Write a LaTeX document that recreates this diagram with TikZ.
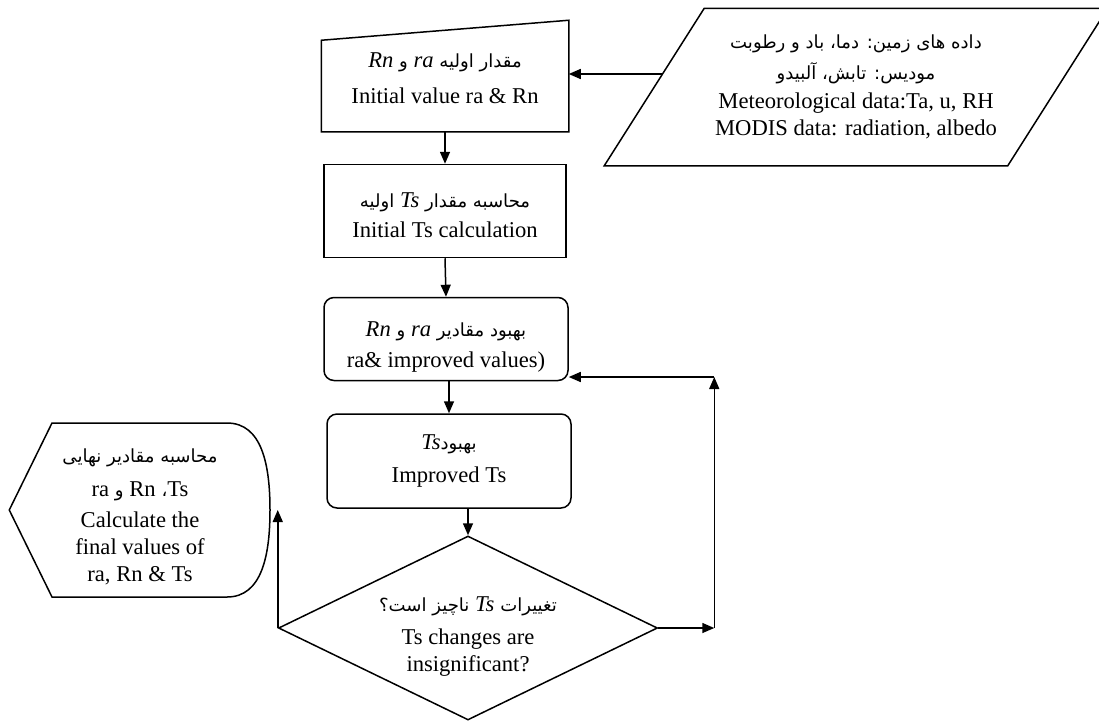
\documentclass[tikz,border=0pt]{standalone}
\usepackage{fontspec}
\setmainfont{Liberation Serif}
\newfontfamily\fa[Script=Arabic,Scale=0.8]{DejaVu Sans}
\TeXXeTstate=1
\usetikzlibrary{shapes.geometric,arrows.meta,calc}

\newcommand{\fatext}[1]{{\fa\beginR #1\endR}}
\newcommand{\latit}[1]{{\rmfamily\itshape #1}}
\newcommand{\latrm}[1]{{\rmfamily #1}}
\newcommand{\hstrut}[1]{\rule{0pt}{#1}}
\newcommand{\dstrut}[1]{\rule[-#1]{0pt}{#1}}

\begin{document}
\begin{tikzpicture}[x=1pt,y=-1pt,line width=1.5pt,
  >={Triangle[length=12pt,width=10pt]},
  every node/.style={font=\fontsize{22.6}{27}\selectfont,align=center,inner sep=0pt},
  box node/.style={rectangle,draw,minimum width=244pt,minimum height=92pt},
  round node/.style={box node,rounded corners=10pt},
  plain node/.style={rectangle,minimum width=246pt,minimum height=90pt},
  test node/.style={diamond,draw,aspect=2.04,minimum width=379pt,minimum height=184pt}]

  \useasboundingbox (0,0) rectangle (1099,721);

  \node[plain node,minimum width=402pt,minimum height=156pt] (data) at (856,87)
    {\fatext{داده های زمین: دما، باد و رطوبت}\\[4pt]
     \fatext{مودیس: تابش، آلبیدو}\\[2pt]
     Meteorological data:Ta, u, RH\\
     MODIS data: radiation, albedo};
  \draw ($(data.south west)+(-50,0)$) -- ($(data.north west)+(50,0)$)
    -- ($(data.north east)+(50,0)$) -- ($(data.south east)+(-50,0)$) -- cycle;
  \node[plain node] (init) at (445,86)
    {\fatext{مقدار اولیه \latit{ra} و \latit{Rn}}\\[9pt]
     Initial value ra \& Rn\dstrut{15pt}};
  \draw (init.south west) -- (init.north west)
    -- ($(init.north east)+(0,-20)$) -- (init.south east) -- cycle;
  \node[box node,minimum width=242pt,minimum height=93pt] (calc) at (445,211)
    {\hstrut{24pt}\fatext{محاسبه مقدار \latit{Ts} اولیه}\\[3pt] Initial Ts calculation};
  \node[round node,minimum height=83pt] (improve) at (446,339)
    {\hstrut{31pt}\fatext{بهبود مقادیر \latit{ra} و \latit{Rn}}\\[4pt] ra\& improved values)};
  \node[round node,minimum height=94pt] (better) at (449,461)
    {\fatext{بهبود\latit{Ts}}\\[6pt] Improved Ts};
  \node[test node] (check) at (468,628)
    {\hstrut{31pt}\fatext{تغییرات \latit{Ts} ناچیز است؟}\\[6pt]
     Ts changes are\\ insignificant?};
  \node[minimum width=260pt,minimum height=174pt] (final) at (140,510)
    {\hstrut{27pt}\fatext{محاسبه مقادیر نهایی}\\[7pt]
     \fatext{\latrm{Ts}، \latrm{Rn} و \latrm{ra}}\\[4pt]
     Calculate the\\ final values of\\ ra, Rn \& Ts};
  \draw (final.west) -- (52,423) -- (227,423)
    .. controls (262,423) and (270,465) .. (270,510)
    .. controls (270,555) and (262,597) .. (227,597) -- (52,597) -- cycle;

  % loop back corners
  \coordinate (din) at ($(data.west)+(8,-13)$);
  \coordinate (loopr) at ($(check.east)+(56,0)$);
  \coordinate (loopt) at (loopr |- 0,377);

  \draw[->] (din) -- (din -| init.east);
  \draw[->] (init.south) -- (calc.north);
  \draw[->] (calc.south) -- (improve.north);
  \draw[->] (improve.south -| better.north) -- (better.north);
  \draw[->] (better.south -| check.north) -- (check.north);
  \draw[->] (check.west) -- (check.west |- final.east);
  \draw[->] (check.east) -- (loopr);
  \draw[->] (loopr) -- (loopt);
  \draw[->] (loopt) -- (loopt -| improve.east);
\end{tikzpicture}
\end{document}
